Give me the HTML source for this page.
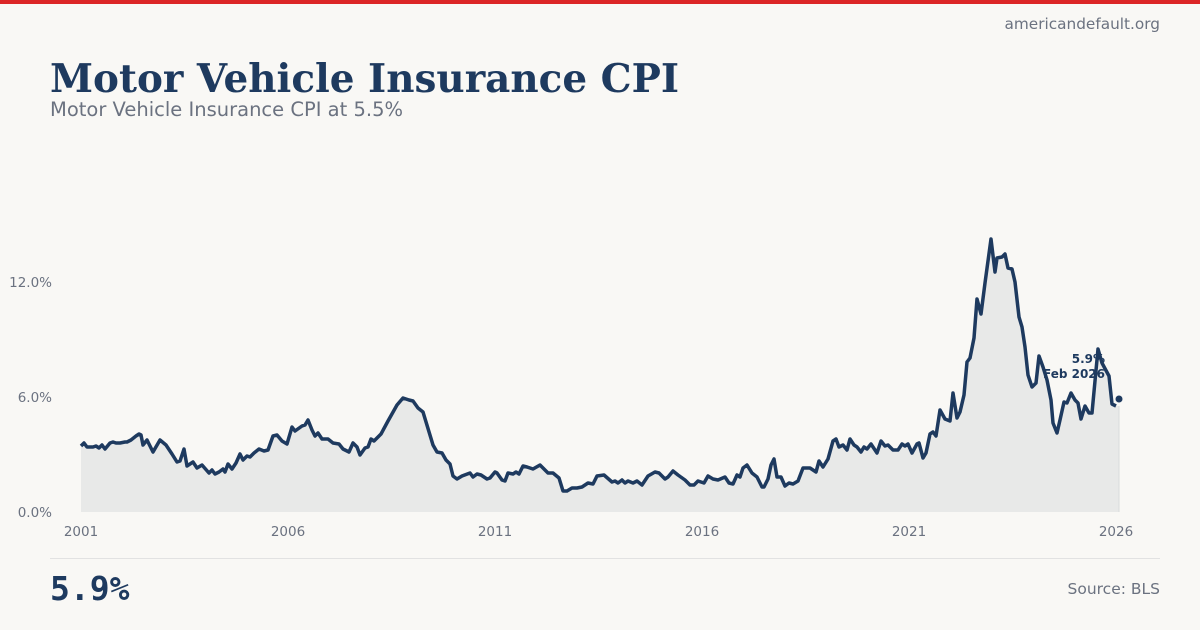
<!DOCTYPE html>
<html><head><style>
body{margin:0;width:1200px;height:630px;background:#f9f8f5;position:relative;overflow:hidden;font-family:"DejaVu Sans",sans-serif}
.bar{position:absolute;top:0;left:0;width:1200px;height:4px;background:#dc2626}
.site{position:absolute;right:40px;top:15px;font-size:15.3px;color:#6b7280}
h1{position:absolute;left:50px;top:56px;margin:0;font-family:"DejaVu Serif",serif;font-weight:bold;font-size:38.9px;color:#1e3a5f;line-height:46px}
.sub{position:absolute;left:50px;top:98px;font-size:19.5px;color:#6b7280}
.hr{position:absolute;left:50px;width:1110px;top:558px;height:1px;background:#e2e2e2}
.big{position:absolute;left:50px;top:569px;font-family:"DejaVu Sans Mono",monospace;font-weight:bold;font-size:33px;color:#1e3a5f}
.src{position:absolute;right:40px;top:580px;font-size:15.5px;color:#6b7280}
svg{position:absolute;left:0;top:0}
</style></head><body>
<div class="bar"></div>
<div class="site">americandefault.org</div>
<h1>Motor Vehicle Insurance CPI</h1>
<div class="sub">Motor Vehicle Insurance CPI at 5.5%</div>
<svg width="1200" height="630" font-family="DejaVu Sans, sans-serif">
<g font-size="13.5" fill="#6b7280" text-anchor="end">
<text x="52" y="287">12.0%</text><text x="52" y="402">6.0%</text><text x="52" y="517">0.0%</text></g>
<g font-size="13.5" fill="#6b7280" text-anchor="middle">
<text x="81" y="536">2001</text><text x="288" y="536">2006</text><text x="495" y="536">2011</text><text x="702" y="536">2016</text><text x="909" y="536">2021</text><text x="1116" y="536">2026</text></g>
<path fill="#e8e9e8" stroke="none" d="M81,512 L81,446 84,443 87,447 93,447 96,446 99,448 102,445 105,449 110,443 113,442 116,443 120,443 125,442 127,442 131,440 136,436 139,434 141,435 143,445 147,440 153,452 160,440 166,445 172,454 177,462 180,461 184,449 187,466 193,462 197,468 202,465 209,473 212,470 215,474 219,472 223,469 225,472 228,464 232,469 236,463 240,454 243,460 247,456 250,457 254,453 259,449 264,451 268,450 273,436 277,435 282,441 287,444 292,427 295,431 302,426 305,425 308,420 312,430 315,436 318,433 322,439 328,439 333,443 339,444 343,449 349,452 353,443 357,447 360,455 365,448 368,447 371,439 374,441 381,434 388,421 397,405 403,398 409,400 413,401 418,408 423,412 433,445 437,452 442,453 446,460 450,464 453,476 457,479 462,476 470,473 473,477 477,474 481,475 487,479 490,478 495,472 497,473 502,480 505,481 508,473 513,474 516,472 519,474 523,466 527,467 533,469 540,465 545,470 548,473 553,473 559,478 563,491 567,491 572,488 577,488 582,487 588,483 593,484 597,476 604,475 612,482 615,481 618,483 622,480 625,483 628,481 633,483 637,481 642,485 648,476 655,472 659,473 665,479 668,477 673,471 678,475 685,480 690,485 694,485 698,481 704,483 708,476 713,479 718,480 725,477 729,483 733,484 737,475 740,477 743,468 747,465 752,473 757,477 762,487 764,487 768,479 771,465 774,459 777,477 781,477 785,486 789,483 793,484 798,481 803,468 810,468 816,472 819,461 823,467 828,459 833,441 836,439 839,447 843,445 847,450 850,439 854,445 857,447 861,452 864,447 867,449 871,444 877,453 881,441 885,446 888,445 893,450 898,450 902,444 905,446 908,444 912,453 917,444 919,443 923,458 926,453 930,434 933,432 936,436 940,410 945,419 950,421 953,393 957,418 960,412 964,395 967,362 970,358 974,338 977,299 981,314 985,283 991,239 995,272 997,258 1002,257 1005,254 1008,268 1012,269 1015,282 1019,317 1022,327 1025,347 1028,375 1032,387 1036,383 1039,356 1043,367 1047,380 1051,400 1053,423 1057,433 1060,420 1064,402 1067,403 1071,393 1075,400 1078,403 1081,419 1085,406 1089,413 1092,413 1098,349 1102,363 1109,376 1112,404 1116,406 L1119,406 1119,512 Z"/>
<line x1="1119" y1="406" x2="1119" y2="512" stroke="#d9dbdc" stroke-width="1"/>
<polyline fill="none" stroke="#1e3a5f" stroke-width="3.5" stroke-linejoin="round" points="81,446 84,443 87,447 93,447 96,446 99,448 102,445 105,449 110,443 113,442 116,443 120,443 125,442 127,442 131,440 136,436 139,434 141,435 143,445 147,440 153,452 160,440 166,445 172,454 177,462 180,461 184,449 187,466 193,462 197,468 202,465 209,473 212,470 215,474 219,472 223,469 225,472 228,464 232,469 236,463 240,454 243,460 247,456 250,457 254,453 259,449 264,451 268,450 273,436 277,435 282,441 287,444 292,427 295,431 302,426 305,425 308,420 312,430 315,436 318,433 322,439 328,439 333,443 339,444 343,449 349,452 353,443 357,447 360,455 365,448 368,447 371,439 374,441 381,434 388,421 397,405 403,398 409,400 413,401 418,408 423,412 433,445 437,452 442,453 446,460 450,464 453,476 457,479 462,476 470,473 473,477 477,474 481,475 487,479 490,478 495,472 497,473 502,480 505,481 508,473 513,474 516,472 519,474 523,466 527,467 533,469 540,465 545,470 548,473 553,473 559,478 563,491 567,491 572,488 577,488 582,487 588,483 593,484 597,476 604,475 612,482 615,481 618,483 622,480 625,483 628,481 633,483 637,481 642,485 648,476 655,472 659,473 665,479 668,477 673,471 678,475 685,480 690,485 694,485 698,481 704,483 708,476 713,479 718,480 725,477 729,483 733,484 737,475 740,477 743,468 747,465 752,473 757,477 762,487 764,487 768,479 771,465 774,459 777,477 781,477 785,486 789,483 793,484 798,481 803,468 810,468 816,472 819,461 823,467 828,459 833,441 836,439 839,447 843,445 847,450 850,439 854,445 857,447 861,452 864,447 867,449 871,444 877,453 881,441 885,446 888,445 893,450 898,450 902,444 905,446 908,444 912,453 917,444 919,443 923,458 926,453 930,434 933,432 936,436 940,410 945,419 950,421 953,393 957,418 960,412 964,395 967,362 970,358 974,338 977,299 981,314 985,283 991,239 995,272 997,258 1002,257 1005,254 1008,268 1012,269 1015,282 1019,317 1022,327 1025,347 1028,375 1032,387 1036,383 1039,356 1043,367 1047,380 1051,400 1053,423 1057,433 1060,420 1064,402 1067,403 1071,393 1075,400 1078,403 1081,419 1085,406 1089,413 1092,413 1098,349 1102,363 1109,376 1112,404 1116,406"/>
<circle cx="1119" cy="399" r="3.5" fill="#1e3a5f"/>
<g font-size="12" font-weight="bold" fill="#1e3a5f" text-anchor="end">
<text x="1105" y="363">5.9%</text><text x="1105" y="378">Feb 2026</text></g>
</svg>
<div class="hr"></div>
<div class="big">5.9%</div>
<div class="src">Source: BLS</div>
</body></html>
